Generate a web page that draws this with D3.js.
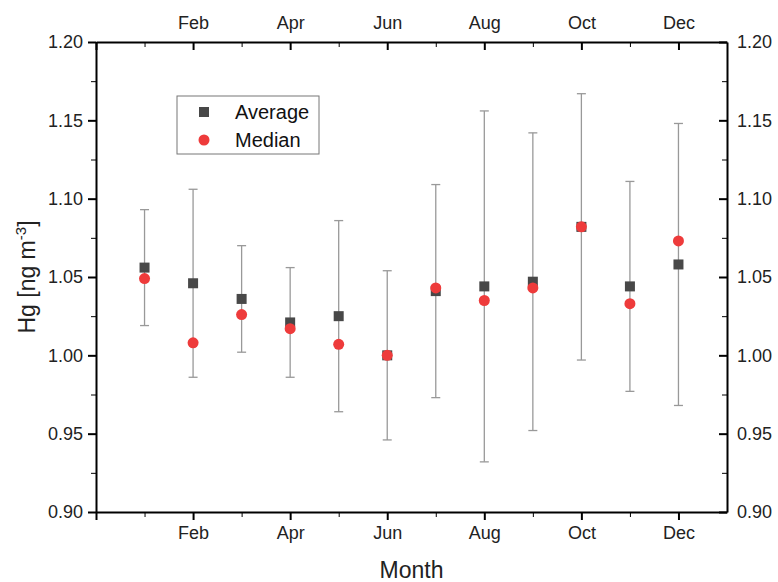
<!DOCTYPE html>
<html>
<head>
<meta charset="utf-8">
<script src="https://cdn.jsdelivr.net/npm/d3@7"></script>
<style>
  body { margin: 0; background: #fff; }
  svg { font-family: "Liberation Sans", Arial, sans-serif; }
  .axis path, .axis line { stroke: #000; }
  .axis text { fill: #222; font-size: 18px; }
</style>
</head>
<body>
<div id="chart"></div>
<script>
// Monthly Hg data
const months = [1, 2, 3, 4, 5, 6, 7, 8, 9, 10, 11, 12];
const monthNames = ['Jan', 'Feb', 'Mar', 'Apr', 'May', 'Jun', 'Jul', 'Aug', 'Sep', 'Oct', 'Nov', 'Dec'];
const average = [1.056, 1.046, 1.036, 1.021, 1.025, 1.000, 1.041, 1.044, 1.047, 1.082, 1.044, 1.058];
const median = [1.049, 1.008, 1.026, 1.017, 1.007, 1.000, 1.043, 1.035, 1.043, 1.082, 1.033, 1.073];
const stdDev = [0.037, 0.060, 0.034, 0.035, 0.061, 0.054, 0.068, 0.112, 0.095, 0.085, 0.067, 0.090];
const yTicks = [0.90, 0.95, 1.00, 1.05, 1.10, 1.15, 1.20];

const width = 778;
const height = 582;
const margin = { top: 42, right: 51, bottom: 70, left: 96 };

const svg = d3.select('#chart').append('svg')
    .attr('width', width)
    .attr('height', height);

const x = d3.scaleLinear().domain([0, 13]).range([margin.left, width - margin.right]);
const y = d3.scaleLinear().domain([0.90, 1.20]).range([height - margin.bottom, margin.top]);

const majorX = [0, 2, 4, 6, 8, 10, 12];
const minorX = [1, 3, 5, 7, 9, 11];
const minorY = d3.range(0.925, 1.2, 0.05);
const fmtMonth = d => d >= 1 ? monthNames[d - 1] : '';

// minor ticks first, then major axes on top
function minor(axis, g) {
    g.call(axis).call(s => s.select('.domain').remove()).selectAll('text').remove();
}
minor(d3.axisBottom(x).tickValues(minorX).tickSize(5),
    svg.append('g').attr('class', 'axis').attr('transform', `translate(0,${y(0.90)})`));
minor(d3.axisTop(x).tickValues(minorX).tickSize(-5),
    svg.append('g').attr('class', 'axis').attr('transform', `translate(0,${y(1.20)})`));
minor(d3.axisLeft(y).tickValues(minorY).tickSize(5),
    svg.append('g').attr('class', 'axis').attr('transform', `translate(${x(0)},0)`));
minor(d3.axisRight(y).tickValues(minorY).tickSize(-5),
    svg.append('g').attr('class', 'axis').attr('transform', `translate(${x(13)},0)`));

const axBottom = svg.append('g').attr('class', 'axis')
    .attr('transform', `translate(0,${y(0.90)})`)
    .call(d3.axisBottom(x).tickValues(majorX).tickSizeInner(8).tickSizeOuter(0).tickPadding(6).tickFormat(fmtMonth));
const axTop = svg.append('g').attr('class', 'axis')
    .attr('transform', `translate(0,${y(1.20)})`)
    .call(d3.axisTop(x).tickValues(majorX).tickSizeInner(-8).tickSizeOuter(0).tickPadding(13).tickFormat(fmtMonth));
const axLeft = svg.append('g').attr('class', 'axis')
    .attr('transform', `translate(${x(0)},0)`)
    .call(d3.axisLeft(y).tickValues(yTicks).tickSizeInner(8).tickSizeOuter(0).tickPadding(5).tickFormat(d3.format('.2f')));
const axRight = svg.append('g').attr('class', 'axis')
    .attr('transform', `translate(${x(13)},0)`)
    .call(d3.axisRight(y).tickValues(yTicks).tickSizeInner(-8).tickSizeOuter(0).tickPadding(10).tickFormat(d3.format('.2f')));

[axBottom, axTop, axLeft, axRight].forEach(g => {
    g.selectAll('path, line').attr('stroke-width', 2);
});

// Error bars (average +/- std dev)
const bars = svg.append('g');
months.forEach((m, i) => {
    const lo = y(average[i] - stdDev[i]);
    const hi = y(average[i] + stdDev[i]);
    const cx = x(m);
    bars.append('line').attr('x1', cx).attr('x2', cx).attr('y1', lo).attr('y2', hi)
        .attr('stroke', '#999').attr('stroke-width', 1.3);
    [lo, hi].forEach(v => {
        bars.append('line').attr('x1', cx - 4.5).attr('x2', cx + 4.5).attr('y1', v).attr('y2', v)
            .attr('stroke', '#999').attr('stroke-width', 1.3);
    });
});

const sq = 10;
svg.append('g').selectAll('rect')
    .data(months)
    .enter().append('rect')
    .attr('x', (d, i) => x(d) - sq / 2)
    .attr('y', (d, i) => y(average[i]) - sq / 2)
    .attr('width', sq)
    .attr('height', sq)
    .attr('fill', '#484848');

svg.append('g').selectAll('circle')
    .data(months)
    .enter().append('circle')
    .attr('cx', d => x(d))
    .attr('cy', (d, i) => y(median[i]))
    .attr('r', 5.5)
    .attr('fill', '#ee3b3b');

// Legend
const legend = svg.append('g');
legend.append('rect')
    .attr('x', 177).attr('y', 96).attr('width', 142).attr('height', 58)
    .attr('fill', '#fff').attr('stroke', '#777').attr('stroke-width', 1);
legend.append('rect')
    .attr('x', 204 - sq / 2).attr('y', 112 - sq / 2).attr('width', sq).attr('height', sq)
    .attr('fill', '#484848');
legend.append('circle')
    .attr('cx', 204).attr('cy', 140).attr('r', 5.5).attr('fill', '#ee3b3b');
legend.append('text').attr('x', 235).attr('y', 119).attr('font-size', 20).attr('fill', '#111').text('Average');
legend.append('text').attr('x', 235).attr('y', 147).attr('font-size', 20).attr('fill', '#111').text('Median');

// Axis titles
svg.append('text')
    .attr('x', (x(0) + x(13)) / 2)
    .attr('y', 578)
    .attr('text-anchor', 'middle')
    .attr('font-size', 23)
    .attr('fill', '#222')
    .text('Month');

const yTitle = svg.append('text')
    .attr('transform', `translate(35,${(y(0.90) + y(1.20)) / 2}) rotate(-90)`)
    .attr('text-anchor', 'middle')
    .attr('font-size', 23)
    .attr('fill', '#222');
yTitle.append('tspan').text('Hg [ng m');
yTitle.append('tspan').attr('dy', -9).attr('font-size', 15).text('-3');
yTitle.append('tspan').attr('dy', 9).text(']');
</script>
</body>
</html>
